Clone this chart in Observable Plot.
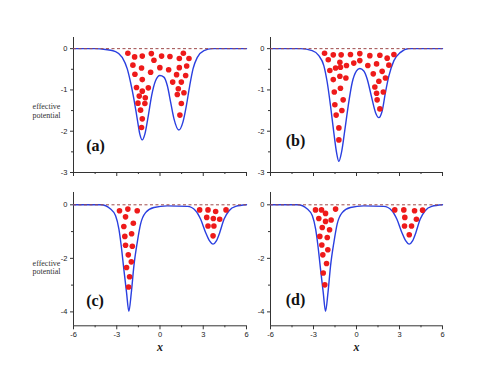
<!DOCTYPE html>
<html><head><meta charset="utf-8">
<script src="https://cdn.jsdelivr.net/npm/d3@7"></script>
<script src="https://cdn.jsdelivr.net/npm/@observablehq/plot@0.6"></script>
<style>
html,body{margin:0;padding:0;background:#fff}
body{width:491px;height:382px;overflow:hidden;position:relative;font-family:"Liberation Sans",Arial,sans-serif}
.panel{position:absolute}
.panel svg{overflow:visible;background:transparent}
</style></head><body>
<script>
// ---- data ----
const xTicks = [-6, -3, 0, 3, 6];
const xMinorTicks = [-4.5, -1.5, 1.5, 4.5];
const yTicksTop = [0, -1, -2, -3];
const yMinorTop = [-0.5, -1.5, -2.5];
const yTicksBottom = [0, -2, -4];
const yMinorBottom = [-1, -3];
const panelLabels = ["(a)", "(b)", "(c)", "(d)"];
const yLabel = "effective\npotential";
const xLabel = "x";

const aCurveX = [-6,-4.5,-3.78,-3.08,-2.62,-2.27,-2.04,-1.81,-1.58,-1.40,-1.23,-1.05,-0.81,-0.58,-0.31,-0.01,0.27,0.51,0.74,0.97,1.31,1.59,1.83,2.06,2.29,2.59,3.05,3.63,4.5,6];
const aCurveY = [0,0,-0.02,-0.07,-0.21,-0.49,-0.82,-1.22,-1.70,-2.07,-2.21,-2.07,-1.62,-1.14,-0.78,-0.65,-0.69,-0.90,-1.30,-1.70,-1.97,-1.78,-1.38,-0.90,-0.49,-0.21,-0.05,0,0,0];
const aDotX = [-2.23,-1.76,-1.23,-0.60,0.11,0.69,1.62,2.01,1.34,-1.88,-1.28,-0.42,-0.01,0.60,1.34,1.85,-1.74,-0.65,-1.23,1.15,1.78,0.88,1.48,-1.63,-0.81,-1.23,1.27,1.66,-1.44,-1.02,1.20,-1.53,-1.05,1.48,-1.35,-1.23,1.38,-1.28];
const aDotY = [-0.11,-0.20,-0.18,-0.12,-0.18,-0.19,-0.11,-0.24,-0.24,-0.40,-0.47,-0.28,-0.46,-0.51,-0.46,-0.42,-0.62,-0.57,-0.75,-0.63,-0.65,-0.81,-0.81,-0.94,-0.95,-1.03,-0.97,-1.07,-1.15,-1.19,-1.11,-1.32,-1.33,-1.33,-1.49,-1.70,-1.61,-1.91];

const bCurveX = [-6,-4.5,-3.91,-3.09,-2.63,-2.28,-2.04,-1.81,-1.58,-1.39,-1.23,-1.05,-0.81,-0.58,-0.30,0.0,0.23,0.51,0.75,1.03,1.33,1.56,1.79,2.02,2.26,2.61,3.07,3.65,4.5,6];
const bCurveY = [0,0,0,-0.05,-0.17,-0.41,-0.82,-1.39,-2.04,-2.52,-2.73,-2.52,-1.96,-1.39,-0.82,-0.54,-0.48,-0.54,-0.74,-1.14,-1.55,-1.67,-1.51,-1.06,-0.66,-0.29,-0.09,0,0,0];
const bDotX = [-2.23,-1.62,-1.07,-0.42,0.23,0.93,1.63,2.14,2.61,-1.97,-1.16,-0.70,-0.19,0.23,0.79,1.40,2.26,-1.86,-1.46,-1.12,1.17,1.79,-1.62,-1.16,-0.74,2.02,1.56,1.28,-1.55,-1.12,1.87,1.40,-0.93,1.44,-1.51,-1.02,-1.42,1.63,-1.23,-1.23];
const bDotY = [-0.11,-0.15,-0.15,-0.14,-0.12,-0.17,-0.16,-0.23,-0.14,-0.27,-0.33,-0.41,-0.35,-0.29,-0.41,-0.37,-0.40,-0.53,-0.47,-0.45,-0.61,-0.55,-0.75,-0.67,-0.71,-0.71,-0.79,-0.93,-1.05,-0.96,-1.05,-1.08,-1.24,-1.24,-1.36,-1.50,-1.61,-1.46,-1.92,-2.21];

const cdCurveX = [-6,-4.5,-4.1,-3.43,-3.08,-2.85,-2.69,-2.51,-2.32,-2.16,-1.99,-1.81,-1.58,-1.35,-1.0,-0.42,0.5,1.9,2.47,2.82,3.17,3.44,3.68,3.91,4.14,4.44,4.79,5.25,6];
const cdCurveY = [0,0,0,-0.16,-0.41,-0.91,-1.53,-2.40,-3.28,-3.98,-3.28,-2.28,-1.41,-0.72,-0.29,-0.10,-0.04,-0.06,-0.22,-0.54,-1.04,-1.35,-1.47,-1.35,-1.04,-0.54,-0.22,-0.06,0];
const cDotX = [-2.81,-2.23,-1.58,-2.39,-2.51,-1.85,-2.44,-1.97,-2.39,-1.92,-2.20,-1.99,-2.32,-2.11,-2.18,2.75,3.33,3.86,4.58,3.24,3.70,4.14,3.33,3.74,3.68];
const cDotY = [-0.22,-0.16,-0.22,-0.45,-0.81,-0.69,-1.18,-1.08,-1.51,-1.55,-1.87,-2.13,-2.34,-2.69,-3.07,-0.19,-0.19,-0.25,-0.19,-0.47,-0.51,-0.54,-0.79,-0.79,-1.16];
const dDotX = [-2.86,-2.44,-1.46,-2.63,-2.16,-2.16,-1.77,-2.39,-1.88,-2.56,-2.04,-2.42,-2.00,-2.35,-2.09,-2.32,-2.21,2.67,3.30,4.05,4.61,3.37,4.18,3.35,3.84,3.68];
const dDotY = [-0.19,-0.19,-0.16,-0.51,-0.32,-0.62,-0.57,-0.85,-0.93,-1.18,-1.22,-1.50,-1.68,-1.87,-2.19,-2.55,-2.99,-0.19,-0.19,-0.22,-0.20,-0.47,-0.54,-0.79,-0.79,-1.12];

// ---- layout ----
const xDomain = [-6, 6];
const yDomainTop = [-3, 0.27];
const yDomainBottom = [-4.52, 0.46];
const BLUE = "#2a3fe0", RED = "#ee1a1a", DASH = "#9e4a4a", AXIS = "#333";
const SERIF = "'Liberation Serif', 'Times New Roman', serif";

function panel(o) {
  const ML = 50, MR = 14, MT = 10, MB = o.bottom ? 42 : 12;
  const fmt = o.bottom ? (d => String(d)) : (() => "");
  const marks = [
    Plot.ruleX([o.xd[0]], {stroke: AXIS, strokeWidth: 1}),
    Plot.ruleY([o.yd[0]], {stroke: AXIS, strokeWidth: 1}),
    Plot.axisX(xTicks, {tickSize: 4, tickPadding: 2, tickFormat: fmt, label: null, stroke: AXIS, fill: "#222", fontSize: 7.5}),
    Plot.axisX(xMinorTicks, {tickSize: 2, tickFormat: () => "", label: null, stroke: AXIS}),
    Plot.axisY(o.yt, {tickSize: 3, tickPadding: 3, tickFormat: d => String(d), label: null, stroke: AXIS, fill: "#222", fontSize: 7.5}),
    Plot.axisY(o.ym, {tickSize: 2, tickFormat: () => "", label: null, stroke: AXIS}),
    Plot.line(o.cx, {x: o.cx, y: o.cy, curve: "monotone-x", stroke: BLUE, strokeWidth: 1.4}),
    Plot.ruleY([0], {stroke: DASH, strokeWidth: 1, strokeDasharray: "3,2.5"}),
    Plot.dot(o.dx, {x: o.dx, y: o.dy, r: 2.8, fill: RED, stroke: "none"}),
    Plot.text([o.label], {text: d => d, frameAnchor: "bottom-left", dx: o.lx, dy: o.ly, fontSize: 16, fontWeight: "bold", fontFamily: SERIF, fill: "#111", textAnchor: "middle"})
  ];
  if (o.ylab) marks.push(Plot.text([yLabel], {text: d => d, frameAnchor: "left", dx: -27, dy: o.ylabDy, textAnchor: "middle", lineHeight: 1.1, fontSize: 8, fontFamily: SERIF, fill: "#333"}));
  if (o.bottom) marks.push(Plot.text([xLabel], {text: d => d, frameAnchor: "bottom", dy: 25, fontSize: 12, fontStyle: "italic", fontWeight: "bold", fontFamily: SERIF, fill: "#222"}));
  const chart = Plot.plot({
    width: ML + o.w + MR, height: MT + o.h + MB,
    marginLeft: ML, marginRight: MR, marginTop: MT, marginBottom: MB,
    x: {domain: o.xd}, y: {domain: o.yd},
    style: {background: "transparent", fontFamily: "'Liberation Sans', Arial, sans-serif", fontSize: "7.5px", overflow: "visible"},
    marks
  });
  const div = document.createElement("div");
  div.className = "panel";
  div.style.left = (o.left - ML) + "px";
  div.style.top = (o.top - MT) + "px";
  div.appendChild(chart);
  document.body.appendChild(div);
}

panel({left: 73, top: 37, w: 173, h: 135, xd: xDomain, yd: yDomainTop, yt: yTicksTop, ym: yMinorTop,
  cx: aCurveX, cy: aCurveY, dx: aDotX, dy: aDotY, label: panelLabels[0], lx: 22, ly: -22, ylab: true, ylabDy: 6, bottom: false});
panel({left: 270, top: 37, w: 172, h: 135, xd: xDomain, yd: yDomainTop, yt: yTicksTop, ym: yMinorTop,
  cx: bCurveX, cy: bCurveY, dx: bDotX, dy: bDotY, label: panelLabels[1], lx: 25, ly: -27, ylab: false, bottom: false});
panel({left: 73, top: 191.7, w: 173, h: 133.3, xd: xDomain, yd: yDomainBottom, yt: yTicksBottom, ym: yMinorBottom,
  cx: cdCurveX, cy: cdCurveY, dx: cDotX, dy: cDotY, label: panelLabels[2], lx: 21.5, ly: -20, ylab: true, ylabDy: 8, bottom: true});
panel({left: 270, top: 191.7, w: 172, h: 133.3, xd: xDomain, yd: yDomainBottom, yt: yTicksBottom, ym: yMinorBottom,
  cx: cdCurveX, cy: cdCurveY, dx: dDotX, dy: dDotY, label: panelLabels[3], lx: 25, ly: -21, ylab: false, bottom: true});
</script>
</body></html>
